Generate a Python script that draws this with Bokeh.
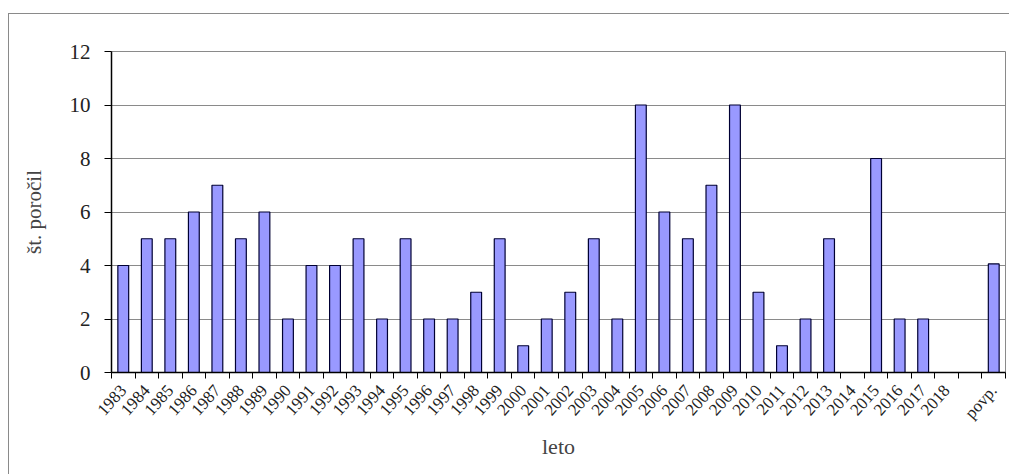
import math
from bokeh.plotting import figure
from bokeh.models import Range1d, FixedTicker
from bokeh.embed import file_html
from bokeh.resources import INLINE

categories = [str(y) for y in range(1983, 2019)] + ["", "povp."]
values = [4, 5, 5, 6, 7, 5, 6, 2, 4, 4, 5, 2, 5, 2, 2, 3, 5, 1, 2, 3, 5, 2,
          10, 6, 5, 7, 10, 3, 1, 2, 5, 0, 8, 2, 2, 0, 0, 4.06]
y_ticks = [0, 2, 4, 6, 8, 10, 12]

n = len(categories)
centers = [i + 0.5 for i in range(n)]
bounds = list(range(n + 1))

FONT = "Liberation Serif"

p = figure(width=1001, height=461, output_backend="svg", toolbar_location=None,
           x_range=Range1d(0, n), y_range=Range1d(0, 12),
           min_border_left=102, min_border_right=5, min_border_top=37, min_border_bottom=103)
p.margin = (13, 0, 0, 8)
p.styles = {"border-left": "1px solid #8a8a8a", "border-top": "1px solid #8a8a8a"}

p.vbar(x=centers, top=values, width=0.46, bottom=0,
       fill_color="#9999FF", line_color="#000033", line_width=1.2)

p.outline_line_color = "#8a8a8a"
p.outline_line_width = 1

# x axis
xa = p.xaxis[0]
xa.ticker = FixedTicker(ticks=centers, minor_ticks=bounds)
xa.major_label_overrides = {c: lab for c, lab in zip(centers, categories)}
xa.major_tick_out = 0
xa.major_tick_in = 0
xa.minor_tick_out = 6
xa.minor_tick_in = 0
xa.minor_tick_line_color = "black"
xa.axis_line_color = "black"
xa.axis_line_width = 1.5
xa.major_label_orientation = 0.84
xa.major_label_text_font = FONT
xa.major_label_text_font_size = "17px"
xa.major_label_text_color = "#222222"
xa.major_label_standoff = 9
xa.axis_label = "leto"
xa.axis_label_text_font = FONT
xa.axis_label_text_font_size = "22px"
xa.axis_label_text_font_style = "normal"
xa.axis_label_standoff = 2

# y axis
ya = p.yaxis[0]
ya.ticker = FixedTicker(ticks=y_ticks)
ya.minor_tick_line_color = None
ya.major_tick_out = 7
ya.major_tick_in = 0
ya.major_tick_line_color = "black"
ya.axis_line_color = "black"
ya.axis_line_width = 1.5
ya.major_label_text_font = FONT
ya.major_label_text_font_size = "21px"
ya.major_label_text_color = "#222222"
ya.major_label_standoff = 14
ya.axis_label = "št. poročil"
ya.axis_label_text_font = FONT
ya.axis_label_text_font_size = "21px"
ya.axis_label_text_font_style = "normal"
ya.axis_label_standoff = 21

p.xgrid.grid_line_color = None
p.ygrid.ticker = FixedTicker(ticks=y_ticks)
p.ygrid.grid_line_color = "#8a8a8a"
p.ygrid.grid_line_width = 1.2

open("out.html", "w").write(file_html(p, INLINE))
